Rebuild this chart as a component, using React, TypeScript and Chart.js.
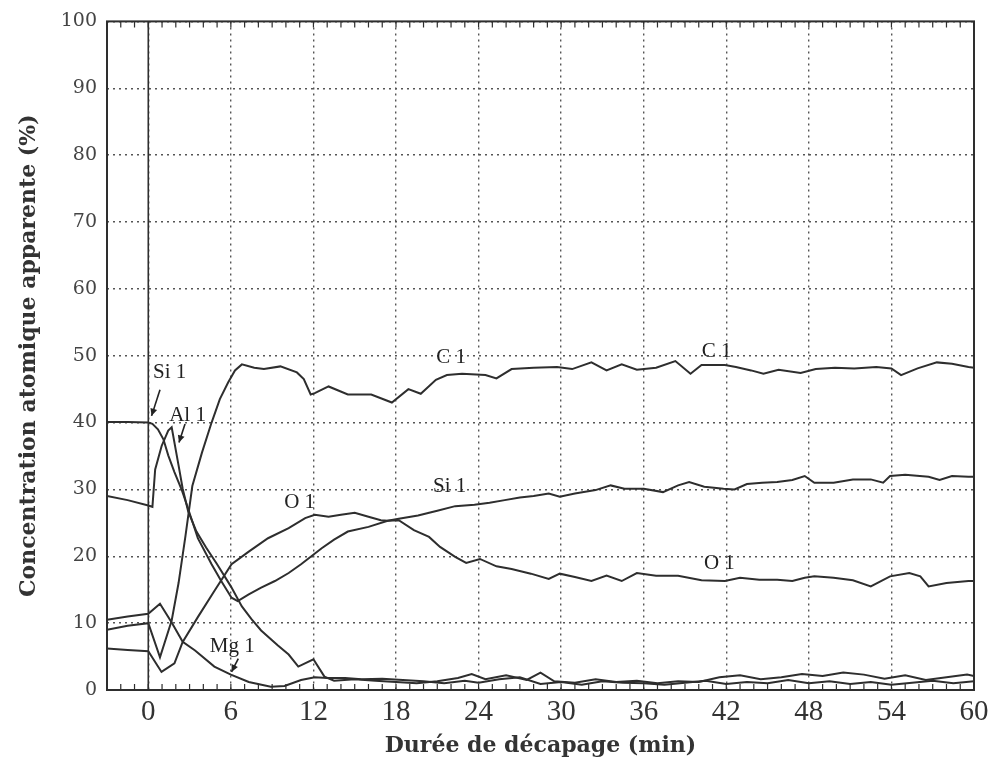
import React, { useEffect, useRef } from "react";
import { Chart, registerables } from "chart.js";

Chart.register(...registerables);

// ---- axis ticks ----
const xTickValues = [0, 6, 12, 18, 24, 30, 36, 42, 48, 54, 60];
const yTickValues = [0, 10, 20, 30, 40, 50, 60, 70, 80, 90, 100];

// ---- series: C 1 ----
const cTimes = [-3, -1.5, 0, 0.85, 1.7, 2.2, 2.7, 3.2, 3.9, 4.6, 5.2, 5.8, 6.3, 6.8, 7.7, 8.4, 9.6, 10.8, 11.3, 11.8, 12.1, 13.1, 14.5, 16.2, 17.7, 18.9, 19.8, 20.9, 21.7, 22.8, 24.5, 25.3, 26.4, 28, 29.7, 30.8, 32.2, 33.3, 34.4, 35.5, 36.9, 38.3, 39.4, 40.2, 41.9, 42.7, 43.8, 44.7, 45.8, 47.4, 48.5, 49.9, 51.3, 52.9, 54.0, 54.7, 55.9, 57.3, 58.4, 59.6, 60];
const cValues = [9.0, 9.6, 10.0, 4.9, 10.4, 16, 23, 30.5, 35.5, 40, 43.5, 46, 47.8, 48.7, 48.2, 48.0, 48.4, 47.5, 46.5, 44.2, 44.4, 45.4, 44.2, 44.2, 43.0, 45.0, 44.3, 46.4, 47.1, 47.3, 47.1, 46.6, 48.0, 48.2, 48.3, 48.0, 49.0, 47.8, 48.7, 47.9, 48.2, 49.2, 47.3, 48.6, 48.6, 48.3, 47.8, 47.3, 47.9, 47.4, 48.0, 48.2, 48.1, 48.3, 48.1, 47.1, 48.1, 49.0, 48.8, 48.3, 48.2];

// ---- series: Si 1 ----
const siTimes = [-3, -1.5, 0, 0.3, 0.7, 1.1, 1.45, 1.9, 2.4, 2.8, 3.6, 4.6, 5.3, 6.05, 6.5, 7.3, 8.2, 9.2, 10.2, 11.1, 12.6, 13.5, 14.5, 16, 17.4, 18.2, 19.6, 21, 22.3, 23.7, 24.8, 25.9, 27, 28, 29.1, 29.9, 31, 32.5, 33.6, 34.6, 36, 37.4, 38.5, 39.3, 40.4, 41.8, 42.6, 43.5, 44.6, 45.7, 46.8, 47.7, 48.4, 49.8, 51.2, 52.5, 53.4, 53.9, 55, 56.7, 57.5, 58.4, 59.6, 60];
const siValues = [40.1, 40.1, 40.0, 39.8, 39.0, 37.5, 35.1, 32.6, 30.1, 27.7, 22.7, 18.8, 16.3, 13.8, 13.3, 14.3, 15.3, 16.3, 17.5, 18.8, 21.2, 22.5, 23.7, 24.4, 25.3, 25.6, 26.1, 26.8, 27.5, 27.7, 28.0, 28.4, 28.8, 29.0, 29.4, 28.9, 29.4, 29.9, 30.6, 30.1, 30.1, 29.6, 30.6, 31.1, 30.4, 30.1, 30.0, 30.8, 31.0, 31.1, 31.4, 32.0, 31.0, 31.0, 31.5, 31.5, 31.0, 32.0, 32.2, 31.9, 31.4, 32.0, 31.9, 31.9];

// ---- series: O 1 ----
const oTimes = [-3, -1.5, 0, 0.96, 1.9, 2.5, 3.6, 4.8, 6.05, 7.3, 8.7, 10.2, 11.4, 12.1, 13.1, 14, 15, 16, 16.9, 17.4, 18.2, 19.3, 20.4, 21.2, 22.3, 23.1, 24.1, 25.3, 26.4, 27.8, 29.1, 29.9, 31, 32.2, 33.3, 34.4, 35.5, 36.9, 38.5, 40.2, 41.9, 43, 44.4, 45.7, 46.8, 47.7, 48.4, 49.8, 51.2, 52.5, 53.9, 55.3, 56.1, 56.7, 58, 59.6, 60];
const oValues = [6.2, 6.0, 5.8, 2.7, 4.0, 7.2, 10.9, 14.8, 18.8, 20.7, 22.7, 24.2, 25.7, 26.2, 25.9, 26.2, 26.5, 25.9, 25.4, 25.3, 25.4, 23.9, 22.9, 21.4, 19.9, 19.0, 19.6, 18.5, 18.1, 17.4, 16.6, 17.4, 16.9, 16.3, 17.1, 16.3, 17.5, 17.1, 17.1, 16.4, 16.3, 16.8, 16.5, 16.5, 16.3, 16.8, 17.0, 16.8, 16.4, 15.5, 17.0, 17.5, 17.0, 15.5, 16.0, 16.3, 16.3];

// ---- series: Al 1 ----
const alTimes = [-3, -1.5, 0, 0.3, 0.5, 0.97, 1.45, 1.7, 2.2, 2.5, 2.9, 3.5, 4.2, 5.0, 6.0, 6.8, 7.5, 8.2, 9.4, 10.2, 10.9, 12.0, 12.8, 13.5, 15, 16.5, 18, 19.5, 21, 22.5, 23.5, 24.5, 26, 27.5, 28.5, 29.5, 31, 32.5, 34, 35.5, 37, 38.5, 40, 41.5, 43, 44.5, 46, 47.5, 49, 50.5, 52, 53.5, 55, 56.5, 58, 59.5, 60];
const alValues = [29.0, 28.4, 27.6, 27.4, 33.0, 36.5, 38.8, 39.3, 33.6, 30.1, 26.7, 23.7, 21.3, 18.8, 15.5, 12.5, 10.6, 8.9, 6.7, 5.3, 3.5, 4.6, 2.0, 1.4, 1.6, 1.4, 1.2, 1.0, 1.3, 1.8, 2.4, 1.6, 2.2, 1.5, 2.6, 1.3, 1.1, 1.6, 1.2, 1.4, 1.0, 1.3, 1.2, 1.9, 2.2, 1.6, 1.9, 2.4, 2.1, 2.6, 2.3, 1.7, 2.2, 1.5, 1.9, 2.3, 2.1];

// ---- series: Mg 1 ----
const mgTimes = [-3, -1.5, 0, 0.85, 1.7, 2.5, 3.4, 4.8, 6.0, 7.3, 8.9, 9.9, 11.1, 12.1, 13.0, 14.3, 15.5, 17, 18.5, 20, 21.5, 23, 24, 25.5, 27, 28.5, 30, 31.5, 33, 34.5, 36, 37.5, 39, 40.5, 42, 43.5, 45, 46.5, 48, 49.5, 51, 52.5, 54, 55.5, 57, 58.5, 60];
const mgValues = [10.5, 11.0, 11.4, 12.9, 10.1, 7.2, 5.9, 3.5, 2.3, 1.2, 0.5, 0.6, 1.5, 1.9, 1.8, 1.8, 1.6, 1.7, 1.5, 1.3, 1.0, 1.4, 1.1, 1.6, 1.9, 0.9, 1.2, 0.8, 1.3, 1.1, 1.0, 0.8, 1.1, 1.4, 0.9, 1.2, 1.0, 1.5, 1.0, 1.3, 0.9, 1.2, 0.8, 1.1, 1.4, 1.0, 1.3];

const seriesNames = ["C 1", "Si 1", "O 1", "Al 1", "Mg 1"];
const seriesTimes = [cTimes, siTimes, oTimes, alTimes, mgTimes];
const seriesValues = [cValues, siValues, oValues, alValues, mgValues];

// ---- in-plot labels (data coordinates) ----
const curveLabelTexts = ["C 1", "C 1", "Si 1", "O 1", "O 1", "Si 1", "Al 1", "Mg 1"];
const curveLabelX = [22, 41.3, 21.9, 11.0, 41.5, 1.55, 2.85, 6.1];
const curveLabelY = [49.8, 50.6, 30.4, 28.1, 18.9, 47.5, 41.0, 6.5];

// ---- arrows (data coordinates: from -> to) ----
const arrowFromX = [0.85, 2.67, 6.54];
const arrowFromY = [44.9, 39.8, 4.7];
const arrowToX = [0.24, 2.23, 6.05];
const arrowToY = [41.0, 37.0, 2.7];

const INK = "#2e2e2e";

const decorPlugin = {
  id: "decor",
  afterDatasetsDraw(chart: any) {
    const { ctx, chartArea: a, scales } = chart;
    const xs = scales.x;
    const ys = scales.y;
    ctx.save();
    // frame
    ctx.strokeStyle = INK;
    ctx.lineWidth = 2;
    ctx.strokeRect(a.left, a.top, a.right - a.left, a.bottom - a.top);
    // solid line at t = 0
    const x0 = xs.getPixelForValue(0);
    ctx.lineWidth = 1.6;
    ctx.beginPath();
    ctx.moveTo(x0, a.top);
    ctx.lineTo(x0, a.bottom);
    ctx.stroke();
    // minor ticks, top and bottom
    ctx.lineWidth = 1.2;
    for (let v = Math.ceil(xs.min); v <= xs.max; v++) {
      const px = xs.getPixelForValue(v);
      ctx.beginPath();
      ctx.moveTo(px, a.bottom);
      ctx.lineTo(px, a.bottom - 6);
      ctx.moveTo(px, a.top);
      ctx.lineTo(px, a.top + 6);
      ctx.stroke();
    }
    // curve labels
    ctx.fillStyle = "#222";
    ctx.font = "21px 'Liberation Serif', serif";
    ctx.textAlign = "center";
    ctx.textBaseline = "middle";
    curveLabelTexts.forEach((t, i) => {
      ctx.fillText(t, xs.getPixelForValue(curveLabelX[i]), ys.getPixelForValue(curveLabelY[i]));
    });
    // arrows
    ctx.strokeStyle = "#222";
    ctx.lineWidth = 1.6;
    arrowFromX.forEach((fx, i) => {
      const x1 = xs.getPixelForValue(fx);
      const y1 = ys.getPixelForValue(arrowFromY[i]);
      const x2 = xs.getPixelForValue(arrowToX[i]);
      const y2 = ys.getPixelForValue(arrowToY[i]);
      const ang = Math.atan2(y2 - y1, x2 - x1);
      const hl = 8;
      ctx.beginPath();
      ctx.moveTo(x1, y1);
      ctx.lineTo(x2, y2);
      ctx.stroke();
      ctx.beginPath();
      ctx.moveTo(x2, y2);
      ctx.lineTo(x2 - hl * Math.cos(ang - 0.45), y2 - hl * Math.sin(ang - 0.45));
      ctx.lineTo(x2 - hl * Math.cos(ang + 0.45), y2 - hl * Math.sin(ang + 0.45));
      ctx.closePath();
      ctx.fill();
    });
    ctx.restore();
  },
};

export default function App() {
  const canvasRef = useRef<HTMLCanvasElement | null>(null);

  useEffect(() => {
    if (!canvasRef.current) return;
    const datasets = seriesNames.map((name, i) => ({
      label: name,
      data: seriesTimes[i].map((t, j) => ({ x: t, y: seriesValues[i][j] })),
      borderColor: INK,
      borderWidth: 2,
      pointRadius: 0,
      tension: 0,
      fill: false,
    }));

    const chart = new Chart(canvasRef.current, {
      type: "line",
      data: { datasets },
      plugins: [decorPlugin],
      options: {
        animation: false,
        responsive: true,
        maintainAspectRatio: false,
        layout: { padding: { top: 15, right: 21, bottom: 0, left: 0 } },
        plugins: { legend: { display: false }, tooltip: { enabled: false } },
        scales: {
          x: {
            type: "linear",
            min: -3,
            max: 60,
            afterBuildTicks: (s: any) => {
              s.ticks = xTickValues.map((v) => ({ value: v }));
            },
            afterFit: (s: any) => {
              s.height = 75;
            },
            grid: { color: "#555", lineWidth: 1.4, drawTicks: false },
            border: { display: false, dash: [2, 4] },
            ticks: {
              padding: 5,
              color: "#333",
              autoSkip: false,
              maxRotation: 0,
              font: { family: "'Liberation Serif', serif", size: 29 },
            },
            title: {
              display: true,
              text: "Durée de décapage (min)",
              color: "#333",
              font: { family: "'DejaVu Serif', serif", size: 22, weight: "bold" },
              padding: { top: 0, bottom: 6 },
            },
          },
          y: {
            type: "linear",
            min: 0,
            max: 100,
            afterBuildTicks: (s: any) => {
              s.ticks = yTickValues.map((v) => ({ value: v }));
            },
            afterFit: (s: any) => {
              s.width = 107;
            },
            grid: { color: "#555", lineWidth: 1.4, drawTicks: false },
            border: { display: false, dash: [2, 4] },
            ticks: {
              padding: 10,
              color: "#444",
              font: { family: "'DejaVu Serif', serif", size: 19 },
            },
            title: {
              display: true,
              text: "Concentration atomique apparente (%)",
              color: "#333",
              font: { family: "'DejaVu Serif', serif", size: 22, weight: "bold" },
              padding: { top: 16, bottom: 0 },
            },
          },
        },
      } as any,
    });
    return () => chart.destroy();
  }, []);

  return (
    <div style={{ position: "fixed", left: 0, top: 0, width: 995, height: 765, background: "#fff" }}>
      <canvas ref={canvasRef} />
    </div>
  );
}
